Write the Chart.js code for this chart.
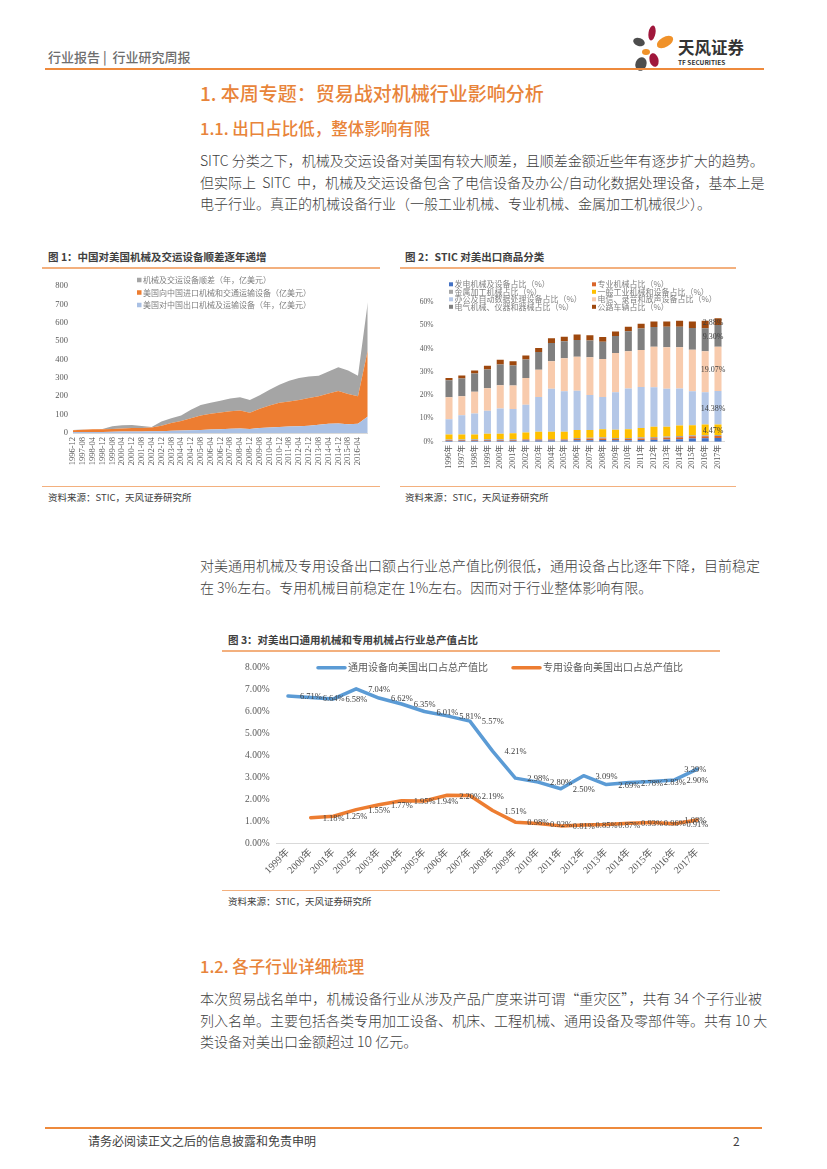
<!DOCTYPE html>
<html lang="zh">
<head>
<meta charset="utf-8">
<script src="https://cdn.jsdelivr.net/npm/chart.js@4.4.1/dist/chart.umd.min.js"></script>
<style>
  html, body { margin: 0; padding: 0; background: #fff; }
  body { width: 827px; height: 1169px; position: relative; overflow: hidden;
         font-family: 'Noto Sans CJK SC', sans-serif; color: #404040; }
  .abs { position: absolute; white-space: nowrap; }
  .rule { position: absolute; height: 2px; background: #EE8A3C; }
  .thin { position: absolute; height: 1px; background: #F3B07E; }
  .line { position: absolute; left: 200px; width: 562px; font-size: 14px; line-height: 22px; white-space: nowrap; font-weight: 300; }
  .j { text-align: justify; text-align-last: justify; }
  .h1 { position: absolute; left: 200px; font-size: 19px; line-height: 28px; color: #E8843A; font-weight: 500; }
  .h2 { position: absolute; left: 200px; font-size: 16.5px; line-height: 24px; color: #E8843A; font-weight: 500; }
  .cap { position: absolute; font-size: 10.5px; line-height: 16px; font-weight: 700; color: #404040; white-space: nowrap; }
  .src { position: absolute; font-size: 9.5px; line-height: 14px; color: #404040; white-space: nowrap; }
  canvas { position: absolute; }
</style>
</head>
<body>

<!-- 页眉 -->
<div class="abs" style="left:48px;top:47px;font-size:13px;line-height:20px;color:#6d6d6d;font-weight:500;">行业报告&nbsp;|&nbsp;&nbsp;行业研究周报</div>
<svg class="abs" style="left:630px;top:24px;" width="50" height="52" viewBox="0 0 50 52">
  <ellipse cx="22" cy="9" rx="3.5" ry="7.5" fill="#A0173C" transform="rotate(10 22 9)"/>
  <ellipse cx="35" cy="18" rx="9" ry="5" fill="#F0922A" transform="rotate(-30 35 18)"/>
  <ellipse cx="9" cy="18" rx="6" ry="4" fill="#4d4d4d" transform="rotate(20 9 18)"/>
  <ellipse cx="16" cy="28" rx="4" ry="3" fill="#F0922A"/>
  <ellipse cx="24" cy="36" rx="4.5" ry="7" fill="#A0173C" transform="rotate(-15 24 36)"/>
  <ellipse cx="11" cy="40" rx="5.5" ry="7" fill="#4d4d4d" transform="rotate(20 11 40)"/>
</svg>
<div class="abs" style="left:678px;top:36px;font-size:16.5px;line-height:22px;font-weight:700;color:#333;">天风证券</div>
<div class="abs" style="left:678px;top:58px;font-size:6.5px;line-height:9px;font-weight:700;color:#333;">TF SECURITIES</div>
<div class="rule" style="left:45px;top:68px;width:719px;"></div>

<div class="h1" style="top:79px;">1. 本周专题：贸易战对机械行业影响分析</div>
<div class="h2" style="top:116px;">1.1. 出口占比低，整体影响有限</div>

<div class="line j" style="top:149px;">SITC 分类之下，机械及交运设备对美国有较大顺差，且顺差金额近些年有逐步扩大的趋势。</div>
<div class="line j" style="top:171px;">但实际上&nbsp; SITC&nbsp; 中，机械及交运设备包含了电信设备及办公/自动化数据处理设备，基本上是</div>
<div class="line" style="top:192px;">电子行业。真正的机械设备行业（一般工业机械、专业机械、金属加工机械很少）。</div>

<!-- 图1 / 图2 -->
<div class="cap" style="left:48px;top:249px;">图 1：中国对美国机械及交运设备顺差逐年递增</div>
<div class="rule" style="left:42px;top:267px;width:338px;background:#F3B07E;"></div>
<canvas id="c1" width="342" height="208" style="left:40px;top:272px;"></canvas>
<div class="thin" style="left:42px;top:486px;width:338px;"></div>
<div class="src" style="left:48px;top:490px;">资料来源：STIC，天风证券研究所</div>

<div class="cap" style="left:405px;top:249px;">图 2：STIC 对美出口商品分类</div>
<div class="rule" style="left:400px;top:267px;width:336px;background:#F3B07E;"></div>
<canvas id="c2" width="340" height="208" style="left:400px;top:272px;"></canvas>
<div class="thin" style="left:400px;top:486px;width:336px;"></div>
<div class="src" style="left:405px;top:490px;">资料来源：STIC，天风证券研究所</div>

<div class="line" style="top:554px;">对美通用机械及专用设备出口额占行业总产值比例很低，通用设备占比逐年下降，目前稳定</div>
<div class="line" style="top:576px;">在 3%左右。专用机械目前稳定在 1%左右。因而对于行业整体影响有限。</div>

<!-- 图3 -->
<div class="cap" style="left:228px;top:632px;">图 3：对美出口通用机械和专用机械占行业总产值占比</div>
<div class="rule" style="left:222px;top:650px;width:498px;background:#F3B07E;"></div>
<canvas id="c3" width="500" height="232" style="left:222px;top:655px;"></canvas>
<div class="thin" style="left:222px;top:890px;width:498px;"></div>
<div class="src" style="left:228px;top:894px;">资料来源：STIC，天风证券研究所</div>

<div class="h2" style="top:954px;">1.2. 各子行业详细梳理</div>
<div class="line j" style="top:987px;">本次贸易战名单中，机械设备行业从涉及产品广度来讲可谓“重灾区”，共有 34 个子行业被</div>
<div class="line j" style="top:1009px;">列入名单。主要包括各类专用加工设备、机床、工程机械、通用设备及零部件等。共有 10 大</div>
<div class="line" style="top:1030px;">类设备对美出口金额超过 10 亿元。</div>

<!-- 页脚 -->
<div class="rule" style="left:45px;top:1127px;width:717px;height:1.5px;"></div>
<div class="abs" style="left:88px;top:1131px;font-size:12px;line-height:20px;color:#404040;">请务必阅读正文之后的信息披露和免责申明</div>
<div class="abs" style="left:733px;top:1131px;font-size:12px;line-height:20px;color:#404040;">2</div>

<script>
// ---------- 数据 ----------
// 图1：每个标注期（亿美元），分段堆叠
const tradeMonths = ['1996-12','1997-08','1998-04','1998-12','1999-08','2000-04','2000-12','2001-08',
  '2002-04','2002-12','2003-08','2004-04','2004-12','2005-08','2006-04','2006-12','2007-08','2008-04',
  '2008-12','2009-08','2010-04','2010-12','2011-08','2012-04','2012-12','2013-08','2014-04','2014-12',
  '2015-08','2016-04','2016-12'];
const usExports = [5,5,6,6,7,8,8,8,9,10,12,13,15,17,19,21,23,25,22,27,30,33,35,37,40,45,50,52,47,50,90];
const usImports = [10,13,14,14,15,17,19,19,21,30,43,52,65,78,86,91,95,97,88,105,120,132,137,143,150,155,165,176,165,150,360];
const tradeSurplus = [1,1,1,2,15,17,16,11,2,22,25,30,46,57,60,64,70,73,70,73,85,97,113,120,117,112,120,130,128,112,262];

// 图2：各类商品占比（%）
const years2 = ['1996年','1997年','1998年','1999年','2000年','2001年','2002年','2003年','2004年','2005年','2006年',
  '2007年','2008年','2009年','2010年','2011年','2012年','2013年','2014年','2015年','2016年','2017年'];
const powerShare    = [0.4,0.4,0.4,0.4,0.4,0.4,0.5,0.5,0.5,0.5,0.6,0.6,0.7,0.6,0.6,0.7,0.8,0.9,1.0,1.4,1.5,1.6];
const profShare     = [0.3,0.3,0.3,0.3,0.3,0.3,0.4,0.4,0.4,0.4,0.6,0.7,0.7,0.6,0.6,0.7,0.7,0.8,0.9,0.9,0.8,0.8];
const metalShare    = [0.2,0.2,0.3,0.3,0.3,0.3,0.3,0.3,0.3,0.3,0.4,0.4,0.5,0.4,0.4,0.5,0.5,0.5,0.5,0.5,0.5,0.5];
const generalShare  = [2.2,2.2,2.1,2.4,2.4,2.6,2.8,3.1,3.1,3.1,3.4,3.3,3.5,3.5,3.7,4.0,4.4,4.2,4.6,4.3,4.6,4.47];
const officeShare   = [6.5,8.3,9.0,9.9,10.9,10.4,11.9,14.9,18.4,17.4,16.9,15.1,13.8,16.1,17.5,17.6,17.0,16.3,15.8,14.6,13.8,14.38];
const telecomShare  = [9.5,8.1,9.4,9.7,9.9,10.1,11.5,11.7,11.9,14.1,14.6,16.2,16.3,16.9,16.1,15.9,17.4,17.9,17.8,17.8,17.7,19.07];
const electricShare = [7.3,7.6,7.8,8.0,9.0,8.6,7.9,7.6,7.8,7.3,7.2,7.2,7.4,7.3,8.5,9.2,8.5,8.8,8.8,9.3,9.8,9.30];
const roadShare     = [1.0,1.3,1.3,1.6,2.0,1.8,1.7,1.7,2.0,2.0,2.3,2.2,2.1,1.9,2.0,2.1,2.3,2.2,2.6,2.8,3.2,2.88];

// 图3：占总产值比（%）
const years3 = ['1999年','2000年','2001年','2002年','2003年','2004年','2005年','2006年','2007年','2008年',
  '2009年','2010年','2011年','2012年','2013年','2014年','2015年','2016年','2017年'];
const generalToUS = [6.71,6.64,6.58,7.04,6.62,6.35,6.01,5.81,5.57,4.21,2.98,2.80,2.50,3.09,2.69,2.78,2.83,2.90,3.39];
const specialToUS = [null,1.18,1.25,1.55,1.77,1.95,1.94,2.20,2.19,1.51,0.98,0.92,0.81,0.85,0.87,0.93,0.96,0.91,1.08];

// ---------- 通用设置 ----------
const fontNum = "'Liberation Serif', 'Noto Sans CJK SC', serif";
Chart.defaults.font.family = "'Noto Sans CJK SC', sans-serif";
Chart.defaults.color = '#595959';
Chart.defaults.animation = false;
Chart.defaults.plugins.legend.display = false;
Chart.defaults.plugins.tooltip.enabled = false;

// 自绘图例（网格排列）
const gridLegend = {
  id: 'gridLegend',
  afterDraw(chart, args, o) {
    const ctx = chart.ctx;
    ctx.save();
    ctx.font = o.font;
    ctx.textBaseline = 'middle';
    o.order.forEach((di, k) => {
      const ds = chart.data.datasets[di];
      const x = o.x + (k % o.cols) * o.colW;
      const y = o.y + Math.floor(k / o.cols) * o.rowH;
      const c = ds.borderColor || ds.backgroundColor;
      if (o.line) {
        ctx.strokeStyle = c; ctx.lineWidth = o.lineW; ctx.lineCap = 'round';
        ctx.beginPath(); ctx.moveTo(x, y); ctx.lineTo(x + o.box, y); ctx.stroke();
      } else {
        ctx.fillStyle = ds.backgroundColor;
        ctx.fillRect(x, y - o.box / 2, o.box, o.box);
      }
      ctx.fillStyle = o.color;
      ctx.fillText(ds.label, x + o.box + o.gap, y);
    });
    ctx.restore();
  }
};

// 柱子上的数值标签（只标最后一根）
const barLabels = {
  id: 'barLabels',
  afterDatasetsDraw(chart, args, o) {
    const ctx = chart.ctx;
    ctx.save();
    ctx.font = o.font; ctx.fillStyle = o.color;
    ctx.textAlign = 'center'; ctx.textBaseline = 'middle';
    o.datasets.forEach(di => {
      const el = chart.getDatasetMeta(di).data[o.index];
      const p = el.getProps(['x', 'y', 'base'], true);
      const v = chart.data.datasets[di].data[o.index];
      ctx.fillText(v.toFixed(2) + '%', p.x + o.dx, (p.y + p.base) / 2 + 1);
    });
    ctx.restore();
  }
};

// 折线点右侧的数值标签
const lineLabels = {
  id: 'lineLabels',
  afterDatasetsDraw(chart, args, o) {
    const ctx = chart.ctx;
    ctx.save();
    ctx.font = o.font; ctx.fillStyle = o.color; ctx.textBaseline = 'middle';
    chart.data.datasets.forEach((ds, di) => {
      const pts = chart.getDatasetMeta(di).data;
      pts.forEach((el, i) => {
        const v = ds.data[i];
        if (v == null) return;
        const last = i === pts.length - 1;
        ctx.textAlign = last ? 'right' : 'left';
        ctx.fillText(v.toFixed(2) + '%', el.x + (last ? 9 : 12), el.y + 1);
      });
    });
    ctx.restore();
  }
};

// ---------- 图1 ----------
new Chart(document.getElementById('c1'), {
  type: 'line',
  data: {
    labels: tradeMonths,
    datasets: [
      { label: '美国对中国出口机械及运输设备（年，亿美元）', data: usExports,
        backgroundColor: '#a9c0e4', borderColor: '#a9c0e4', fill: 'origin' },
      { label: '美国向中国进口机械和交通运输设备（亿美元）', data: usImports,
        backgroundColor: '#ed7d31', borderColor: '#ed7d31', fill: '-1' },
      { label: '机械及交运设备顺差（年，亿美元）', data: tradeSurplus,
        backgroundColor: '#a5a5a5', borderColor: '#a5a5a5', fill: '-1' }
    ]
  },
  options: {
    responsive: false,
    elements: { point: { radius: 0 }, line: { borderWidth: 0, tension: 0 } },
    layout: { padding: { top: 14, right: 9, left: 0, bottom: 0 } },
    scales: {
      x: {
        offset: false,
        grid: { display: false, drawTicks: false },
        border: { color: '#d9d9d9' },
        ticks: {
          autoSkip: false, minRotation: 90, maxRotation: 90, padding: 4,
          font: { family: fontNum, size: 8.5 },
          callback: (v, i) => i < tradeMonths.length - 1 ? tradeMonths[i] : ''
        },
        afterFit(s) { s.height = 47; }
      },
      y: {
        stacked: true, min: 0, max: 800,
        ticks: { stepSize: 100, padding: 5, font: { family: fontNum, size: 8.5 } },
        grid: { display: false, drawTicks: false },
        border: { display: false },
        afterFit(s) { s.width = 33; }
      }
    },
    plugins: {
      gridLegend: { order: [2, 1, 0], x: 97, y: 8, cols: 1, colW: 0, rowH: 12.5,
        box: 4.5, gap: 1.5, font: "8px 'Noto Sans CJK SC'", color: '#7f7f7f' }
    }
  },
  plugins: [gridLegend]
});

// ---------- 图2 ----------
new Chart(document.getElementById('c2'), {
  type: 'bar',
  data: {
    labels: years2,
    datasets: [
      { label: '发电机械及设备占比（%）', data: powerShare, backgroundColor: '#4472c4' },
      { label: '专业机械占比（%）', data: profShare, backgroundColor: '#d9652a' },
      { label: '金属加工机械占比（%）', data: metalShare, backgroundColor: '#a5a5a5' },
      { label: '一般工业机械和设备占比（%）', data: generalShare, backgroundColor: '#ffc000' },
      { label: '办公及自动数据处理设备占比（%）', data: officeShare, backgroundColor: '#b4c7e7' },
      { label: '电信、录音和放声设备占比（%）', data: telecomShare, backgroundColor: '#f8cbad' },
      { label: '电气机械、仪器和器械占比（%）', data: electricShare, backgroundColor: '#808080' },
      { label: '公路车辆占比（%）', data: roadShare, backgroundColor: '#9e480e' }
    ]
  },
  options: {
    responsive: false,
    datasets: { bar: { categoryPercentage: 1, barPercentage: 0.55 } },
    layout: { padding: { top: 30, right: 15.6, left: 0, bottom: 0 } },
    scales: {
      x: {
        stacked: true,
        grid: { display: false, drawTicks: false },
        border: { color: '#d9d9d9' },
        ticks: { autoSkip: false, minRotation: 90, maxRotation: 90, padding: 3,
          font: { family: fontNum, size: 8 } },
        afterFit(s) { s.height = 38.3; }
      },
      y: {
        stacked: true, min: 0, max: 60,
        ticks: { stepSize: 10, padding: 9, callback: v => v + '%', font: { family: fontNum, size: 7.5 } },
        grid: { display: false, drawTicks: false },
        border: { display: false },
        afterFit(s) { s.width = 42.6; }
      }
    },
    plugins: {
      gridLegend: { order: [0, 1, 2, 3, 4, 5, 6, 7], x: 49, y: 12.3, cols: 2, colW: 143, rowH: 7.5,
        box: 4, gap: 1.5, font: "8px 'Noto Sans CJK SC'", color: '#7f7f7f' },
      barLabels: { datasets: [3, 4, 5, 6, 7], index: years2.length - 1, dx: -5,
        font: "8px " + fontNum, color: '#404040' }
    }
  },
  plugins: [gridLegend, barLabels]
});

// ---------- 图3 ----------
new Chart(document.getElementById('c3'), {
  type: 'line',
  data: {
    labels: years3,
    datasets: [
      { label: '通用设备向美国出口占总产值比', data: generalToUS, borderColor: '#5b9bd5', borderWidth: 3.5 },
      { label: '专用设备向美国出口占总产值比', data: specialToUS, borderColor: '#ed7d31', borderWidth: 3.5 }
    ]
  },
  options: {
    responsive: false,
    elements: { point: { radius: 0 }, line: { tension: 0, borderJoinStyle: 'round', borderCapStyle: 'round', fill: false } },
    layout: { padding: { top: 12.7, right: 13.4, left: 0, bottom: 0 } },
    scales: {
      x: {
        offset: true,
        grid: { display: false, drawTicks: false },
        border: { color: '#d9d9d9' },
        ticks: { autoSkip: false, minRotation: 45, maxRotation: 45, padding: 3,
          font: { family: fontNum, size: 10 } },
        afterFit(s) { s.height = 43.3; }
      },
      y: {
        min: 0, max: 8,
        ticks: { stepSize: 1, padding: 7, callback: v => v.toFixed(2) + '%', font: { family: fontNum, size: 9.5 } },
        grid: { display: false, drawTicks: false },
        border: { display: false },
        afterFit(s) { s.width = 54.6; }
      }
    },
    plugins: {
      gridLegend: { order: [0, 1], x: 96, y: 12.7, cols: 2, colW: 195, rowH: 0, line: true, lineW: 3.5,
        box: 27, gap: 3, font: "10px 'Noto Sans CJK SC'", color: '#595959' },
      lineLabels: { font: "8.5px " + fontNum, color: '#404040' }
    }
  },
  plugins: [gridLegend, lineLabels]
});
</script>
</body>
</html>
